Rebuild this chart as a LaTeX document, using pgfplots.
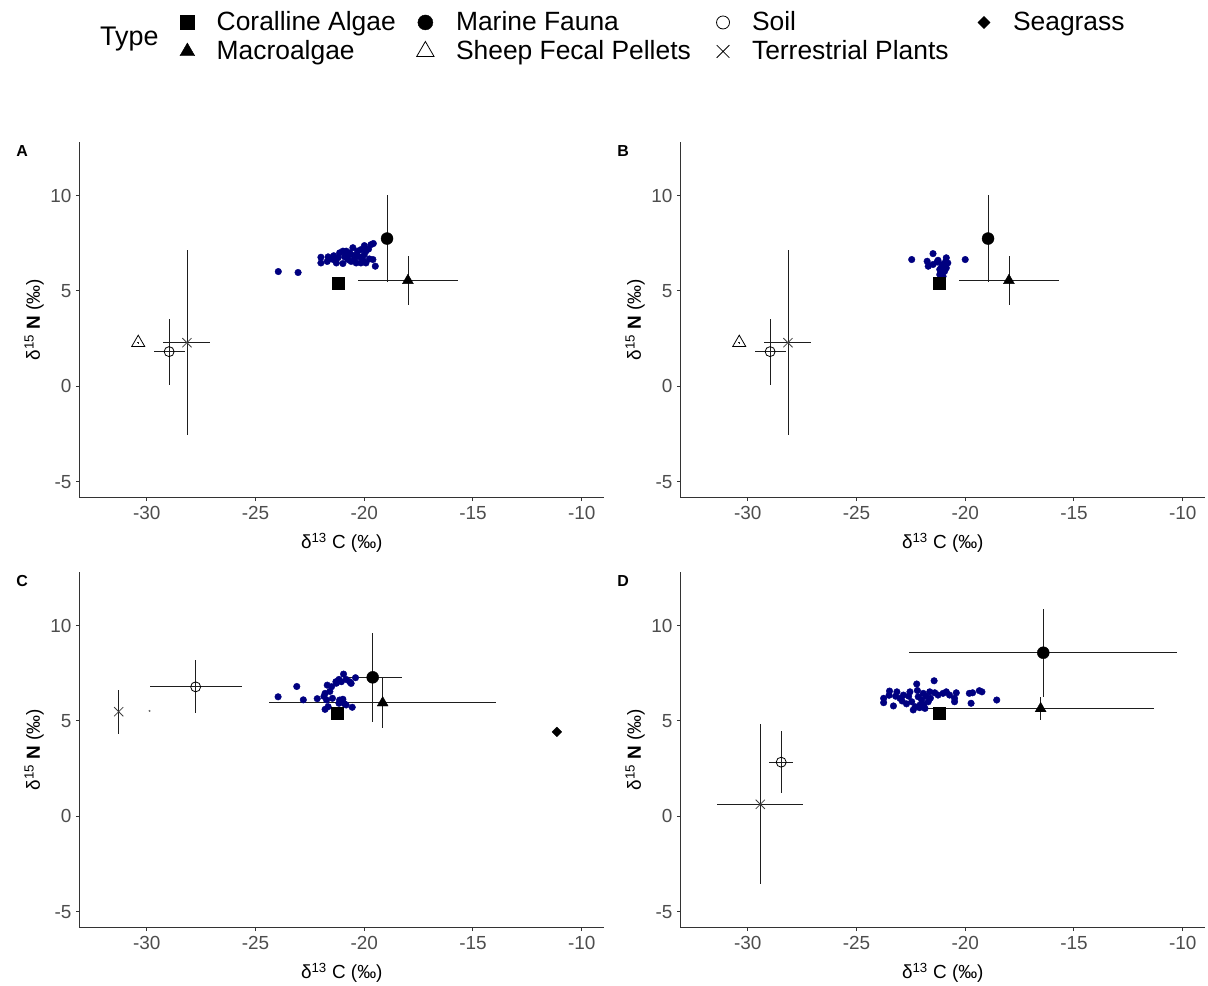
\documentclass[border=0pt]{standalone}
\usepackage{pgfplots}
\pgfplotsset{compat=1.18}
\usepackage{fontspec}
\setmainfont{Liberation Sans}

\definecolor{consumer}{RGB}{0,0,128}
\definecolor{ticktext}{RGB}{77,77,77}
\definecolor{barline}{RGB}{30,30,30}

\tikzset{panellabel/.style={font=\bfseries\fontsize{16}{16}\selectfont, anchor=center, inner sep=0pt}}

\pgfplotsset{
  panel/.style={
    scale only axis, width=525bp, height=356bp,
    xmin=-33.1, xmax=-8.96, ymin=-5.84, ymax=12.83,
    axis x line*=bottom, axis y line*=left,
    axis line style={-, black!80, line width=1bp},
    every outer x axis line/.append style={-},
    every outer y axis line/.append style={-},
    tick align=outside, major tick length=3.5bp,
    tick style={black!80, line width=1bp},
    xtick={-30,-25,-20,-15,-10}, xticklabels={-30,-25,-20,-15,-10},
    ytick={-5,0,5,10}, yticklabels={-5,0,5,10},
    ticklabel style={font=\fontsize{19}{20}\selectfont, text=ticktext, inner sep=0pt},
    xticklabel style={anchor=north, yshift=-4.8bp},
    yticklabel style={anchor=east, xshift=-4.1bp},
    xlabel={δ\textsuperscript{13} C (‰)},
    ylabel={δ\textsuperscript{15} \textbf{N} (‰)},
    xlabel style={at={(axis description cs:0.5,-0.1421)}, anchor=base, inner sep=0pt,
      font=\fontsize{19}{20}\selectfont},
    ylabel style={at={(axis description cs:-0.0862,0.5)}, anchor=center, inner sep=0pt,
      font=\fontsize{19}{20}\selectfont},
    clip=false,
  },
  consumers/.style={only marks, forget plot, mark=*, mark size=3.3bp, color=consumer,
    mark options={draw=consumer, fill=consumer}},
  source/.style={only marks, forget plot, black,
    error bars/x dir=both, error bars/x explicit,
    error bars/y dir=both, error bars/y explicit,
    error bars/error mark=none,
    error bars/error bar style={barline, line width=0.8bp}},
  coralline/.style={mark=square*, mark size=6bp},
  macro/.style={mark=triangle*, mark size=6.3bp},
  fauna/.style={mark=*, mark size=6bp},
  sheep/.style={mark=triangle, mark size=7.5bp, mark options={line width=0.8bp}},
  soil/.style={mark=o, mark size=5bp, mark options={line width=0.8bp}},
  terr/.style={mark=x, mark size=6.5bp, mark options={line width=0.8bp, black!75}},
  seagrass/.style={mark=square*, mark size=3.4bp, mark options={rotate=45}},
}

\begin{document}
\begin{tikzpicture}
\path[use as bounding box] (0,0) rectangle (1208bp,986bp);

\node[anchor=base west, inner sep=0pt, font=\fontsize{27}{29}\selectfont] at (100bp,940bp) {Type};

% ---------- Panel A ----------
\begin{axis}[panel, at={(79.3bp,488.3bp)}, anchor=south west,
  legend columns=4,
  legend cell align=left,
  legend image code/.code={\path[draw=none, fill=none] (-7bp,-7bp) rectangle (7bp,7bp); \draw[#1] plot coordinates {(0bp,0bp)};},
  legend style={at={(axis description cs:0.1918,1.3686)}, anchor=north west,
    draw=none, fill=none, inner sep=0pt, outer sep=0pt,
    font=\fontsize{26.5}{29}\selectfont,
    nodes={inner sep=0pt, text height=20bp, text depth=4bp},
    row sep=5bp,
    /tikz/every odd column/.append style={column sep=22bp},
    /tikz/every even column/.append style={column sep=21bp}},
]
\addlegendimage{black, mark=square*, mark size=7bp}
\addlegendentry{\makebox[179bp][l]{Coralline Algae}}
\addlegendimage{black, mark=*, mark size=7.5bp}
\addlegendentry{Marine Fauna}
\addlegendimage{black, mark=o, mark size=6.5bp, mark options={line width=0.8bp}}
\addlegendentry{Soil}
\addlegendimage{black, mark=square*, mark size=4.3bp, mark options={rotate=45}}
\addlegendentry{Seagrass}
\addlegendimage{black, mark=triangle*, mark size=8.5bp}
\addlegendentry{Macroalgae}
\addlegendimage{black, mark=triangle, mark size=10bp, mark options={line width=0.8bp}}
\addlegendentry{\makebox[239bp][l]{Sheep Fecal Pellets}}
\addlegendimage{black, mark=x, mark size=9bp, mark options={line width=0.8bp}}
\addlegendentry{\makebox[204bp][l]{Terrestrial Plants}}

\addplot[consumers] coordinates {
(-23.95,6.02) (-23.04,5.97) (-21.99,6.77) (-21.99,6.47) (-21.66,6.79) (-21.5,6.68)
(-21.35,6.61) (-21.28,6.47) (-21.13,7.0) (-20.98,7.09) (-20.9,6.79) (-20.83,7.09)
(-20.98,6.44) (-20.75,6.65) (-20.6,6.91) (-20.52,7.27) (-20.45,6.65) (-20.37,6.47)
(-20.3,7.09) (-20.22,6.79) (-20.15,7.17) (-20.07,6.65) (-19.99,7.38) (-19.92,7.09)
(-19.92,6.47) (-19.76,6.68) (-19.69,7.43) (-19.58,7.49) (-19.6,6.65) (-19.49,6.3)
(-20.67,7.0) (-21.2,6.75) (-20.8,6.83) (-20.15,6.47) (-21.4,6.85) (-20.6,6.55)
(-20.0,6.9) (-19.8,7.2) (-21.7,6.55) (-20.35,6.9)
};
\addplot[source, coralline] coordinates {(-21.19,5.41) +- (0,0)};
\addplot[source, macro] coordinates {(-17.99,5.55) +- (2.3,1.28)};
\addplot[source, fauna] coordinates {(-18.95,7.75) +- (0,2.3)};
\addplot[source, sheep] coordinates {(-30.39,2.29) +- (0.05,0.05)};
\addplot[source, soil] coordinates {(-28.97,1.82) +- (0.71,1.73)};
\addplot[source, terr] coordinates {(-28.15,2.29) +- (1.08,4.86)};
\node[panellabel] at (axis description cs:-0.109,0.974) {A};
\end{axis}

% ---------- Panel B ----------
\begin{axis}[panel, at={(680.3bp,488.3bp)}, anchor=south west]
\addplot[consumers] coordinates {
(-22.46,6.65) (-21.48,6.96) (-20.0,6.65) (-21.75,6.56) (-21.7,6.3) (-21.48,6.39)
(-21.25,6.61) (-21.17,6.13) (-21.05,6.39) (-20.87,6.74) (-20.8,6.47) (-20.87,6.21)
(-21.02,5.77) (-21.17,5.86) (-20.95,6.03) (-21.29,6.52) (-21.1,6.25) (-20.9,6.55)
};
\addplot[source, coralline] coordinates {(-21.19,5.41) +- (0,0)};
\addplot[source, macro] coordinates {(-17.99,5.55) +- (2.3,1.28)};
\addplot[source, fauna] coordinates {(-18.95,7.75) +- (0,2.3)};
\addplot[source, sheep] coordinates {(-30.39,2.29) +- (0.05,0.05)};
\addplot[source, soil] coordinates {(-28.97,1.82) +- (0.71,1.73)};
\addplot[source, terr] coordinates {(-28.15,2.29) +- (1.08,4.86)};
\node[panellabel] at (axis description cs:-0.109,0.974) {B};
\end{axis}

% ---------- Panel C ----------
\begin{axis}[panel, at={(79.3bp,58.3bp)}, anchor=south west]
\addplot[consumers] coordinates {
(-23.96,6.27) (-23.1,6.81) (-22.8,6.11) (-22.16,6.17) (-21.8,6.45) (-21.7,6.88)
(-21.5,6.8) (-21.3,7.06) (-21.16,7.18) (-20.95,7.46) (-21.05,7.06) (-20.83,7.18)
(-20.6,6.97) (-20.4,7.27) (-21.73,6.1) (-21.46,6.19) (-21.13,6.1) (-20.98,6.14)
(-21.8,5.61) (-21.66,5.75) (-21.16,5.93) (-20.83,5.84) (-20.55,5.72) (-20.9,5.9)
(-21.85,6.29) (-21.58,6.55) (-21.28,6.98) (-20.67,7.06)
};
\addplot[source, coralline] coordinates {(-21.24,5.41) +- (0,0)};
\addplot[source, macro] coordinates {(-19.15,5.95) +- (5.21,1.34)};
\addplot[source, fauna] coordinates {(-19.61,7.29) +- (1.33,2.33)};
\addplot[source, mark=*, mark size=0.8bp, mark options={black!60}] coordinates {(-29.87,5.53) +- (0,0)};
\addplot[source, soil] coordinates {(-27.75,6.79) +- (2.12,1.39)};
\addplot[source, terr] coordinates {(-31.29,5.49) +- (0,1.15)};
\addplot[source, seagrass] coordinates {(-11.14,4.43) +- (0,0)};
\node[panellabel] at (axis description cs:-0.109,0.974) {C};
\end{axis}

% ---------- Panel D ----------
\begin{axis}[panel, at={(680.3bp,58.3bp)}, anchor=south west]
\addplot[consumers] coordinates {
(-23.75,6.19) (-23.75,5.96) (-23.48,6.57) (-23.3,5.79) (-23.14,6.53) (-23.0,6.19)
(-22.84,6.36) (-22.54,6.53) (-22.46,6.01) (-22.39,5.58) (-22.23,6.94) (-22.16,6.27)
(-22.08,5.84) (-21.93,6.45) (-21.85,5.66) (-21.7,6.01) (-21.63,6.53) (-21.43,7.11)
(-21.4,6.48) (-21.25,6.36) (-21.02,6.45) (-20.87,6.53) (-20.72,6.36) (-20.49,6.19)
(-20.41,6.48) (-20.49,6.01) (-19.81,6.45) (-19.73,5.93) (-19.66,6.48) (-19.35,6.59)
(-19.23,6.53) (-18.55,6.1) (-22.7,5.9) (-22.3,5.75) (-22.0,6.1) (-21.9,5.85)
(-22.6,6.3) (-23.2,6.3) (-22.9,6.05) (-21.6,6.2) (-22.2,6.6) (-23.5,6.35)
(-22.1,5.7) (-21.8,6.3)
};
\addplot[source, coralline] coordinates {(-21.19,5.41) +- (0,0)};
\addplot[source, macro] coordinates {(-16.53,5.65) +- (5.22,0.6)};
\addplot[source, fauna] coordinates {(-16.41,8.58) +- (6.17,2.31)};
\addplot[source, soil] coordinates {(-28.46,2.84) +- (0.55,1.64)};
\addplot[source, terr] coordinates {(-29.42,0.63) +- (1.97,4.2)};
\node[panellabel] at (axis description cs:-0.109,0.974) {D};
\end{axis}
\end{tikzpicture}
\end{document}
